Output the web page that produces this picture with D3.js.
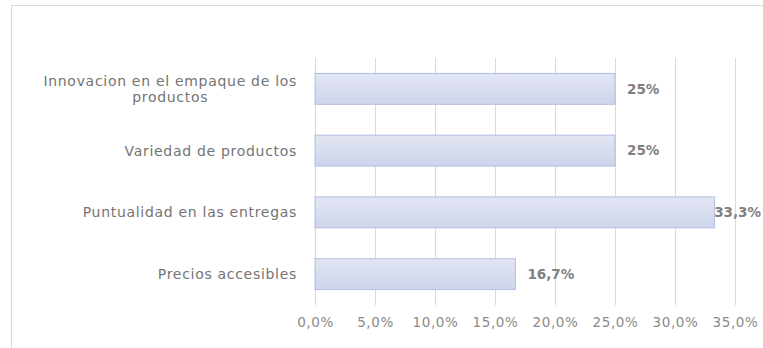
<!DOCTYPE html>
<html>
<head>
<meta charset="utf-8">
<script src="https://cdn.jsdelivr.net/npm/d3@7/dist/d3.min.js"></script>
<style>
  html, body { margin: 0; padding: 0; background: #fff; }
  svg { display: block; }
  text { font-family: "DejaVu Sans", Verdana, sans-serif; }
</style>
</head>
<body>
<svg id="chart" width="763" height="348"></svg>
<script>
// Category labels, listed top first
const categories = [
  ["Innovacion en el empaque de los", "productos"],
  ["Variedad de productos"],
  ["Puntualidad en las entregas"],
  ["Precios accesibles"]
];
// Share of responses per category, in percent
const values = [25, 25, 33.3, 16.7];
// Value labels shown beside each bar
const valueLabels = ["25%", "25%", "33,3%", "16,7%"];
// Axis ticks
const tickValues = [0, 5, 10, 15, 20, 25, 30, 35];

const svg = d3.select("#chart");
const W = 763, H = 348;
const margin = { top: 58, right: 28, bottom: 43, left: 315 };

// outer chart frame
svg.append("rect")
  .attr("x", 11.5).attr("y", 5.5)
  .attr("width", W + 10).attr("height", H + 10)
  .attr("fill", "#fff")
  .attr("stroke", "#d9d9d9").attr("stroke-width", 1);

const x = d3.scaleLinear().domain([0, 35]).range([margin.left, W - margin.right]);
const y = d3.scaleBand()
  .domain(d3.range(categories.length))
  .range([margin.top, H - margin.bottom])
  .paddingInner(0.5).paddingOuter(0.25);

// bar fill gradient
const defs = svg.append("defs");
const grad = defs.append("linearGradient")
  .attr("id", "barFill").attr("x1", 0).attr("y1", 0).attr("x2", 0).attr("y2", 1);
grad.append("stop").attr("offset", "0%").attr("stop-color", "#e2e6f3");
grad.append("stop").attr("offset", "100%").attr("stop-color", "#ced4ea");

// vertical gridlines and tick labels
const xAxis = d3.axisBottom(x)
  .tickValues(tickValues)
  .tickSize(-(H - margin.bottom - margin.top))
  .tickPadding(12)
  .tickFormat(d => d3.format(".1f")(d).replace(".", ",") + "%");

const gx = svg.append("g")
  .attr("transform", `translate(0,${H - margin.bottom})`)
  .call(xAxis);
gx.select(".domain").remove();
gx.selectAll(".tick line").attr("stroke", "#d9d9d9").attr("stroke-width", 1);
gx.selectAll(".tick text")
  .attr("fill", "#8a8a8a")
  .attr("font-size", "13.5px")
  .style("letter-spacing", "0.6px");

// bars
svg.append("g").selectAll("rect")
  .data(values)
  .join("rect")
  .attr("x", x(0))
  .attr("y", (d, i) => y(i))
  .attr("width", d => x(d) - x(0))
  .attr("height", y.bandwidth())
  .attr("fill", "url(#barFill)")
  .attr("stroke", "#b3bce2")
  .attr("stroke-width", 1);

// value labels; a label that would run past the right edge is pulled back inside
svg.append("g").selectAll("text")
  .data(values)
  .join("text")
  .attr("y", (d, i) => y(i) + y.bandwidth() / 2)
  .attr("dy", "0.35em")
  .attr("fill", "#808080")
  .attr("font-size", "13.5px")
  .attr("font-weight", "bold")
  .text((d, i) => valueLabels[i])
  .each(function (d) {
    const len = this.getComputedTextLength();
    d3.select(this).attr("x", Math.min(x(d) + 12, W - 2 - len));
  });

// category labels
const lineH = 16.5;
const cl = svg.append("g").selectAll("text")
  .data(categories)
  .join("text")
  .attr("text-anchor", "middle")
  .attr("fill", "#747474")
  .attr("font-size", "14px")
  .style("letter-spacing", "0.7px");

cl.each(function (lines, i) {
  const t = d3.select(this);
  const cy = y(i) + y.bandwidth() / 2;
  const first = cy - (lines.length - 1) * lineH / 2;
  lines.forEach((ln, k) => {
    t.append("tspan")
      .attr("y", first + k * lineH)
      .attr("dy", "0.35em")
      .text(ln);
  });
  // right-align the block while centring each line within it
  const widths = [];
  t.selectAll("tspan").each(function () { widths.push(this.getComputedTextLength()); });
  const maxW = d3.max(widths);
  const right = margin.left - 18;
  t.selectAll("tspan").attr("x", right - maxW / 2);
});
</script>
</body>
</html>
